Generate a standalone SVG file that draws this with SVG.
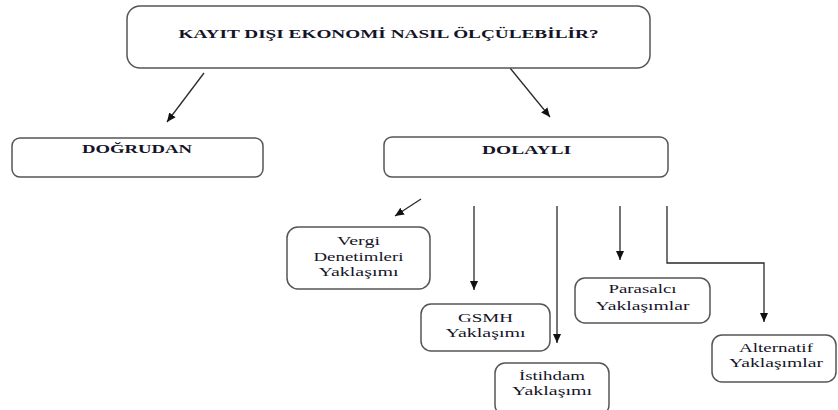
<svg xmlns="http://www.w3.org/2000/svg" width="838" height="410" viewBox="0 0 838 410">
<style>
.box{fill:#fff;stroke:#555;stroke-width:1.5}
.t{font-family:"Liberation Serif","Times New Roman",serif;font-size:13px;fill:#141428;text-anchor:middle}
.b{font-weight:bold}
.c{fill:none;stroke:#2a2a2a;stroke-width:1.3}
</style>
<defs>
<marker id="ah" markerUnits="userSpaceOnUse" markerWidth="10" markerHeight="10" viewBox="0 0 10 10" refX="9" refY="5" orient="auto">
<path d="M0,1 L9,5 L0,9 Z" fill="#111"/>
</marker>
</defs>
<rect width="838" height="410" fill="#fff"/>
<g id="connectors">
<line class="c" x1="204" y1="73" x2="167" y2="122" marker-end="url(#ah)"/>
<line class="c" x1="510" y1="68" x2="550" y2="117" marker-end="url(#ah)"/>
<line class="c" x1="421" y1="199" x2="395" y2="216" marker-end="url(#ah)"/>
<line class="c" x1="474" y1="206" x2="474" y2="290" marker-end="url(#ah)"/>
<line class="c" x1="557" y1="206" x2="557" y2="343" marker-end="url(#ah)"/>
<line class="c" x1="620" y1="206" x2="620" y2="260" marker-end="url(#ah)"/>
<polyline class="c" points="667,206 667,263 764,263 764,322" marker-end="url(#ah)"/>
</g>
<g id="root">
<rect class="box" x="127" y="6" width="523" height="62" rx="13"/>
<text class="t b" x="388.5" y="38" textLength="420" lengthAdjust="spacingAndGlyphs">KAYIT DIŞI EKONOMİ NASIL ÖLÇÜLEBİLİR?</text>
</g>
<g id="dogrudan">
<rect class="box" x="12" y="138" width="251" height="39" rx="8"/>
<text class="t b" x="137" y="153" textLength="110" lengthAdjust="spacingAndGlyphs">DOĞRUDAN</text>
</g>
<g id="dolayli">
<rect class="box" x="384" y="137" width="284" height="40" rx="8"/>
<text class="t b" x="526.5" y="154" textLength="89" lengthAdjust="spacingAndGlyphs">DOLAYLI</text>
</g>
<g id="vergi">
<rect class="box" x="287" y="227" width="143" height="62" rx="11"/>
<text class="t" x="358.5" y="245" textLength="43" lengthAdjust="spacingAndGlyphs">Vergi</text>
<text class="t" x="358.5" y="261" textLength="90" lengthAdjust="spacingAndGlyphs">Denetimleri</text>
<text class="t" x="358.5" y="276" textLength="80" lengthAdjust="spacingAndGlyphs">Yaklaşımı</text>
</g>
<g id="gsmh">
<rect class="box" x="421" y="304" width="129" height="47" rx="10"/>
<text class="t" x="485.5" y="322" textLength="55" lengthAdjust="spacingAndGlyphs">GSMH</text>
<text class="t" x="485.5" y="337" textLength="80" lengthAdjust="spacingAndGlyphs">Yaklaşımı</text>
</g>
<g id="istihdam">
<rect class="box" x="495" y="363" width="114" height="52" rx="10"/>
<text class="t" x="552" y="380" textLength="66" lengthAdjust="spacingAndGlyphs">İstihdam</text>
<text class="t" x="552" y="395" textLength="80" lengthAdjust="spacingAndGlyphs">Yaklaşımı</text>
</g>
<g id="parasalci">
<rect class="box" x="575" y="278" width="135" height="45" rx="10"/>
<text class="t" x="642.5" y="293" textLength="68" lengthAdjust="spacingAndGlyphs">Parasalcı</text>
<text class="t" x="642.5" y="310" textLength="94" lengthAdjust="spacingAndGlyphs">Yaklaşımlar</text>
</g>
<g id="alternatif">
<rect class="box" x="712" y="335" width="124" height="47" rx="10"/>
<text class="t" x="776" y="352" textLength="74" lengthAdjust="spacingAndGlyphs">Alternatif</text>
<text class="t" x="776" y="367" textLength="94" lengthAdjust="spacingAndGlyphs">Yaklaşımlar</text>
</g>
</svg>
